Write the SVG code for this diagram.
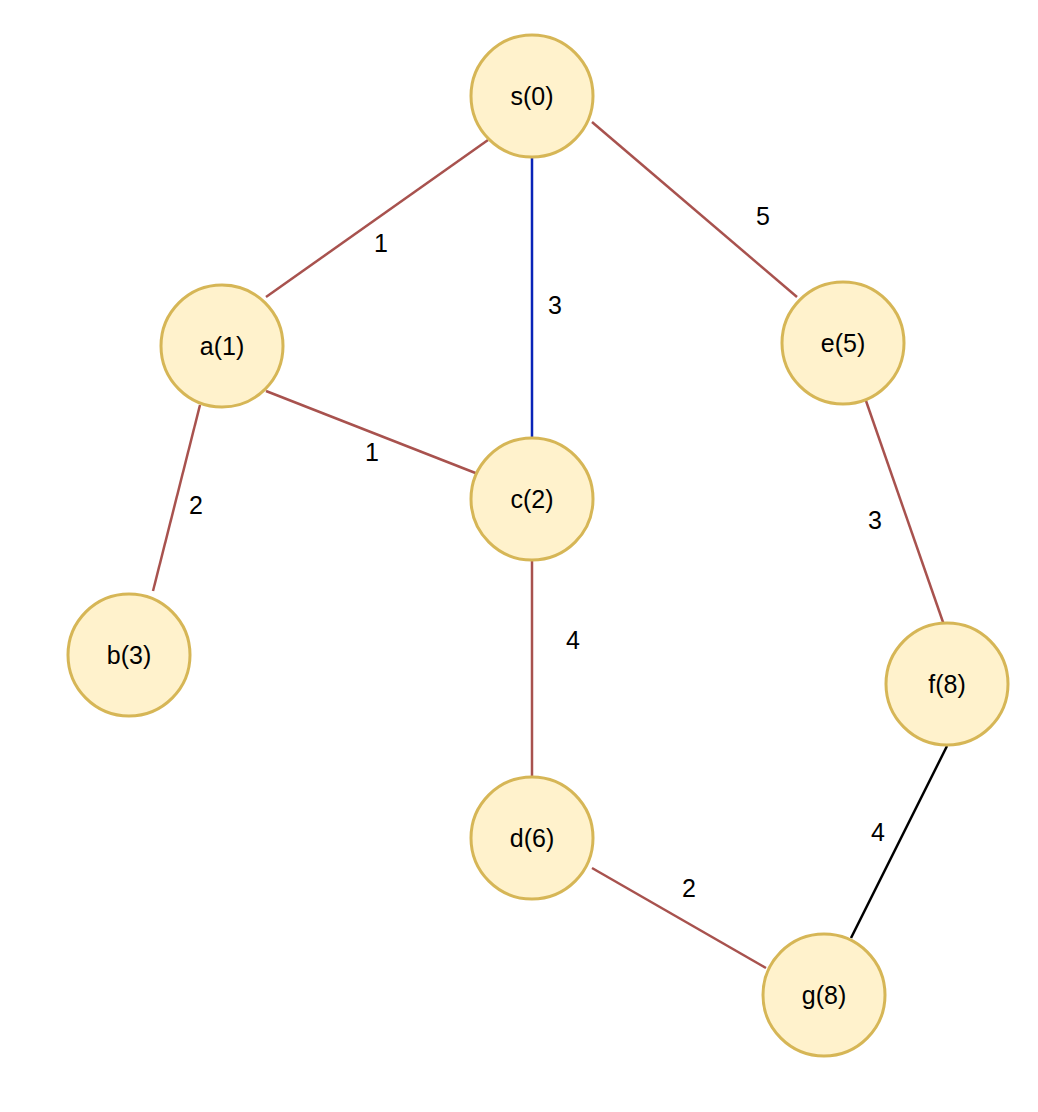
<svg xmlns="http://www.w3.org/2000/svg" width="1038" height="1112" viewBox="0 0 1038 1112">
<style>
.n{fill:#fff2cc;stroke:#d6b656;stroke-width:3}
.t{font-family:"Liberation Sans",Arial,sans-serif;font-size:25px;fill:#000;text-anchor:middle;dominant-baseline:central}
.e{stroke:#a8524e;stroke-width:2.5;fill:none}
</style>
<rect width="1038" height="1112" fill="#fff"/>
<g id="connectors">
<line class="e" x1="488" y1="140" x2="266" y2="297"/>
<line class="e" x1="532" y1="158" x2="532" y2="437" style="stroke:#0a24b8"/>
<line class="e" x1="592" y1="122" x2="797" y2="297"/>
<line class="e" x1="266" y1="391" x2="478" y2="474"/>
<line class="e" x1="200" y1="405" x2="153" y2="591"/>
<line class="e" x1="532" y1="561" x2="532" y2="776"/>
<line class="e" x1="865" y1="398" x2="944" y2="625"/>
<line class="e" x1="947" y1="746" x2="851" y2="938" style="stroke:#000"/>
<line class="e" x1="592" y1="868" x2="766" y2="968"/>
<text class="t" x="381" y="243">1</text>
<text class="t" x="555" y="305">3</text>
<text class="t" x="763" y="216">5</text>
<text class="t" x="372" y="452">1</text>
<text class="t" x="196" y="505">2</text>
<text class="t" x="573" y="640">4</text>
<text class="t" x="875" y="520">3</text>
<text class="t" x="878" y="832">4</text>
<text class="t" x="689" y="888">2</text>
</g>
<g id="s"><circle class="n" cx="532" cy="96" r="61"/><text class="t" x="532" y="96">s(0)</text></g>
<g id="a"><circle class="n" cx="222" cy="346" r="61"/><text class="t" x="222" y="346">a(1)</text></g>
<g id="e"><circle class="n" cx="843" cy="343" r="61"/><text class="t" x="843" y="343">e(5)</text></g>
<g id="c"><circle class="n" cx="532" cy="499" r="61"/><text class="t" x="532" y="499">c(2)</text></g>
<g id="b"><circle class="n" cx="129" cy="655" r="61"/><text class="t" x="129" y="655">b(3)</text></g>
<g id="f"><circle class="n" cx="947" cy="684" r="61"/><text class="t" x="947" y="684">f(8)</text></g>
<g id="d"><circle class="n" cx="532" cy="838" r="61"/><text class="t" x="532" y="838">d(6)</text></g>
<g id="g"><circle class="n" cx="824" cy="995" r="61"/><text class="t" x="824" y="995">g(8)</text></g>
</svg>
